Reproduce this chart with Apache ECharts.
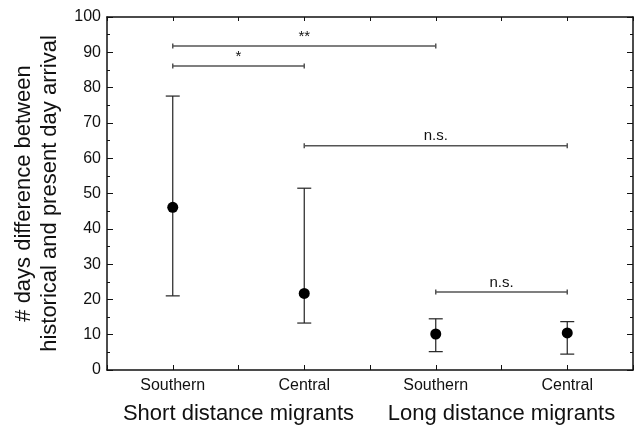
<!DOCTYPE html>
<html>
<head>
<meta charset="utf-8">
<script src="https://cdn.jsdelivr.net/npm/echarts@6/dist/echarts.min.js"></script>
<style>
  html, body { margin: 0; padding: 0; background: #fff; }
  #chart { width: 636px; height: 425px; }
</style>
</head>
<body>
<div id="chart"></div>
<script>
const categories = ['Southern', 'Central', 'Southern', 'Central']
const groups = ['Short distance migrants', 'Long distance migrants']
const means = [46.1, 21.7, 10.2, 10.5]
const lower = [21.0, 13.3, 5.2, 4.5]
const upper = [77.6, 51.5, 14.5, 13.7]

// significance brackets: from category, to category, height, label
const bracketFrom = [0, 0, 1, 2]
const bracketTo = [2, 1, 3, 3]
const bracketY = [91.8, 86.1, 63.5, 22.1]
const bracketLabel = ['**', '*', 'n.s.', 'n.s.']

const FONT = 'Liberation Sans, Arial, sans-serif'
const chart = echarts.init(document.getElementById('chart'))

const catLabel = v => {
  const i = Math.round(v)
  return Math.abs(v - i) < 1e-6 && categories[i] ? categories[i] : ''
}
const groupLabel = v => {
  if (Math.abs(v - 0.5) < 1e-6) return groups[0]
  if (Math.abs(v - 2.5) < 1e-6) return groups[1]
  return ''
}

const xBase = {
  type: 'value', min: -0.5, max: 3.5, interval: 0.5,
  splitLine: { show: false },
  axisLine: { onZero: false, lineStyle: { color: '#111', width: 1.5 } }
}
const yBase = {
  type: 'value', min: 0, max: 100, interval: 10,
  splitLine: { show: false },
  axisLine: { show: true, onZero: false, lineStyle: { color: '#111', width: 1.5 } },
  axisTick: { show: true, inside: true, length: 6, lineStyle: { color: '#111' } },
  minorTick: { show: true, splitNumber: 2, length: 3, lineStyle: { color: '#111' } }
}

chart.setOption({
  backgroundColor: '#fff',
  animation: false,
  grid: { left: 107, right: 3, top: 17, bottom: 55 },
  xAxis: [
    Object.assign({}, xBase, {
      position: 'bottom',
      axisTick: { show: true, inside: true, length: 5, lineStyle: { color: '#111' } },
      axisLabel: { formatter: catLabel, color: '#111', fontSize: 16, fontFamily: FONT, margin: 8 }
    }),
    Object.assign({}, xBase, {
      position: 'bottom', offset: 25,
      axisLine: { show: false }, axisTick: { show: false },
      axisLabel: { formatter: groupLabel, color: '#111', fontSize: 22, fontFamily: FONT, margin: 8 }
    }),
    Object.assign({}, xBase, {
      position: 'top',
      axisTick: { show: true, inside: true, length: 4, lineStyle: { color: '#111' } },
      axisLabel: { show: false }
    })
  ],
  yAxis: [
    Object.assign({}, yBase, {
      position: 'left',
      name: '# days difference between\nhistorical and present day arrival',
      nameLocation: 'middle', nameGap: 40,
      nameTextStyle: { color: '#111', fontSize: 22, fontFamily: FONT, lineHeight: 26 },
      axisLabel: { color: '#111', fontSize: 16, fontFamily: FONT, margin: 6 }
    }),
    Object.assign({}, yBase, {
      position: 'right',
      axisLabel: { show: false }
    })
  ],
  series: [
    {
      type: 'custom',
      name: 'error',
      data: categories.map((c, i) => [i, lower[i], upper[i]]),
      renderItem: (params, api) => {
        const lo = api.coord([api.value(0), api.value(1)])
        const hi = api.coord([api.value(0), api.value(2)])
        const w = 7
        const style = { stroke: '#222', lineWidth: 1.2 }
        return {
          type: 'group',
          children: [
            { type: 'line', shape: { x1: lo[0], y1: lo[1], x2: hi[0], y2: hi[1] }, style },
            { type: 'line', shape: { x1: lo[0] - w, y1: lo[1], x2: lo[0] + w, y2: lo[1] }, style },
            { type: 'line', shape: { x1: hi[0] - w, y1: hi[1], x2: hi[0] + w, y2: hi[1] }, style }
          ]
        }
      },
      z: 2
    },
    {
      type: 'scatter',
      name: 'mean',
      data: categories.map((c, i) => [i, means[i]]),
      symbol: 'circle',
      symbolSize: 11,
      itemStyle: { color: '#000', opacity: 1 },
      z: 3
    },
    {
      type: 'custom',
      name: 'brackets',
      data: bracketY.map((y, i) => [bracketFrom[i], bracketTo[i], y]),
      renderItem: (params, api) => {
        const a = api.coord([api.value(0), api.value(2)])
        const b = api.coord([api.value(1), api.value(2)])
        const style = { stroke: '#555', lineWidth: 1.5 }
        const label = bracketLabel[params.dataIndex]
        return {
          type: 'group',
          children: [
            { type: 'line', shape: { x1: a[0], y1: a[1], x2: b[0], y2: b[1] }, style },
            { type: 'line', shape: { x1: a[0], y1: a[1] - 2.5, x2: a[0], y2: a[1] + 2.5 }, style },
            { type: 'line', shape: { x1: b[0], y1: b[1] - 2.5, x2: b[0], y2: b[1] + 2.5 }, style },
            {
              type: 'text',
              x: (a[0] + b[0]) / 2, y: a[1] - 2,
              style: {
                text: label, fill: '#111',
                font: '15px ' + FONT,
                align: 'center', verticalAlign: 'bottom'
              }
            }
          ]
        }
      },
      z: 2
    }
  ]
})
</script>
</body>
</html>
